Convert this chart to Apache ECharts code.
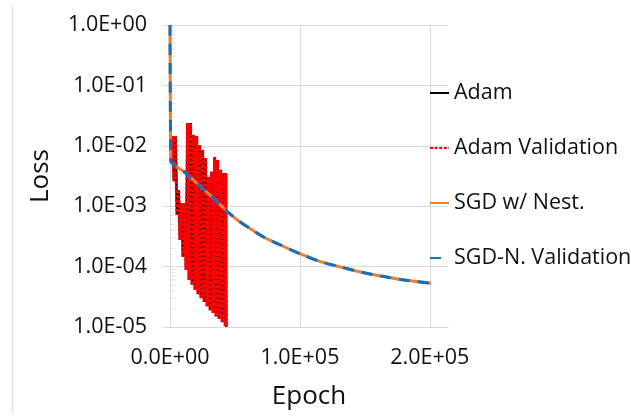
<!DOCTYPE html>
<html>
<head>
<meta charset="utf-8">
<script src="https://cdn.jsdelivr.net/npm/echarts@6/dist/echarts.min.js"></script>
<style>
html,body{margin:0;padding:0;background:#fff;}
#chart{width:631px;height:417px;}
</style>
</head>
<body>
<div id="chart"></div>
<script>
// ---- Data ----
const seriesNames = ['Adam', 'Adam Validation', 'SGD w/ Nest.', 'SGD-N. Validation'];

const adamEpochs = [800, 1900, 3100, 4200, 5400, 6600, 7700, 8900, 10000, 11200,
  12400, 13500, 14700, 15800, 17000, 18100, 19300, 20500, 21600, 22800,
  23900, 25100, 26300, 27400, 28600, 29700, 30900, 32000, 33200, 34400,
  35500, 36700, 37800, 39000, 40200, 41300, 42500, 43000, 43300];
const adamLoss = [5.4e-3, 1.45e-2, 2.6e-3, 1.45e-2, 7.2e-4, 1.85e-3, 2.8e-4, 1.13e-3, 1.44e-4, 1.13e-3,
  8.8e-5, 2.38e-2, 6.0e-5, 2.38e-2, 5.0e-5, 1.51e-2, 4.1e-5, 1.45e-2, 3.5e-5, 1.03e-2,
  3.0e-5, 8.5e-3, 2.6e-5, 6.3e-3, 2.2e-5, 3.0e-3, 1.9e-5, 3.7e-3, 1.7e-5, 6.5e-3,
  1.5e-5, 5.8e-3, 1.36e-5, 4.0e-3, 1.2e-5, 3.55e-3, 1.04e-5, 3.5e-3, 1.0e-5];
const adamValLoss = [5.4e-3, 1.45e-2, 2.6e-3, 1.45e-2, 7.2e-4, 1.85e-3, 2.8e-4, 1.13e-3, 1.44e-4, 1.13e-3,
  8.8e-5, 2.38e-2, 6.0e-5, 2.38e-2, 5.0e-5, 1.51e-2, 4.1e-5, 1.45e-2, 3.5e-5, 1.03e-2,
  3.0e-5, 8.5e-3, 2.6e-5, 6.3e-3, 2.2e-5, 3.0e-3, 1.9e-5, 3.7e-3, 1.7e-5, 6.5e-3,
  1.5e-5, 5.8e-3, 1.36e-5, 4.0e-3, 1.2e-5, 3.55e-3, 1.04e-5, 3.5e-3, 1.0e-5];

const sgdEpochs = [0, 500, 800, 11600, 21600, 32400, 42500, 52500, 63300, 73400,
  84900, 100400, 115800, 131300, 146700, 162200, 177600, 200800];
const sgdLoss = [1.0, 6.0e-3, 5.4e-3, 3.61e-3, 2.29e-3, 1.42e-3, 8.81e-4, 5.79e-4, 4.04e-4, 2.98e-4,
  2.28e-4, 1.62e-4, 1.21e-4, 9.85e-5, 8.14e-5, 6.99e-5, 6.11e-5, 5.29e-5];
const sgdValLoss = [1.0, 6.0e-3, 5.4e-3, 3.61e-3, 2.29e-3, 1.42e-3, 8.81e-4, 5.79e-4, 4.04e-4, 2.98e-4,
  2.28e-4, 1.62e-4, 1.21e-4, 9.85e-5, 8.14e-5, 6.99e-5, 6.11e-5, 5.29e-5];

const xTickValues = [0, 100000, 200000];
const yTickExponents = [0, -1, -2, -3, -4, -5];

// ---- Helpers ----
function pair(xs, ys) { return xs.map((x, i) => [x, ys[i]]); }
function sci(v) {
  if (v === 0) return '0.0E+00';
  const e = Math.floor(Math.log10(v) + 1e-9);
  const m = v / Math.pow(10, e);
  return m.toFixed(1) + 'E' + (e < 0 ? '-' : '+') + String(Math.abs(e)).padStart(2, '0');
}
// minor tick decoration for the log axis (2..9 in each decade)
const minorTicks = [];
for (let d = -5; d < 0; d++) for (let k = 2; k <= 9; k++) minorTicks.push([0, k * Math.pow(10, d)]);

const FONT = '"Open Sans", "Noto Sans", sans-serif';
const GRID = '#D9D9D9';
const FS = 21.5;

const chart = echarts.init(document.getElementById('chart'), null, { renderer: 'canvas' });
chart.setOption({
  animation: false,
  backgroundColor: '#fff',
  textStyle: { fontFamily: FONT },
  grid: { left: 170, right: 183, top: 25, bottom: 90, containLabel: false },
  graphic: [{
    type: 'line', silent: true,
    shape: { x1: 12.5, y1: 6, x2: 12.5, y2: 412 },
    style: { stroke: GRID, lineWidth: 1 }
  }],
  legend: {
    orient: 'vertical',
    left: 424, top: 76,
    itemGap: 31,
    itemWidth: 19, itemHeight: 14,
    itemStyle: { opacity: 0 },
    textStyle: { fontFamily: FONT, fontSize: FS, color: '#111', lineHeight: 24 },
    data: seriesNames
  },
  xAxis: {
    type: 'value',
    min: 0, max: 214000, interval: 100000,
    axisLine: { show: true, lineStyle: { color: GRID, width: 1 } },
    axisTick: { show: false },
    splitLine: { show: true, showMaxLine: false, lineStyle: { color: GRID, width: 1 } },
    axisLabel: {
      fontFamily: FONT, fontSize: FS, color: '#111', margin: 20,
      showMaxLabel: false,
      formatter: v => (xTickValues.indexOf(v) >= 0 ? sci(v) : '')
    },
    name: 'Epoch', nameLocation: 'middle', nameGap: 57,
    nameTextStyle: { fontFamily: FONT, fontSize: 26, color: '#111' }
  },
  yAxis: {
    type: 'log', logBase: 10,
    min: 1e-5, max: 1, splitNumber: 5,
    axisLine: { show: true, lineStyle: { color: GRID, width: 1 } },
    axisTick: { show: true, length: 7, lineStyle: { color: GRID } },
    splitLine: { show: true, lineStyle: { color: GRID, width: 1 } },
    axisLabel: {
      fontFamily: FONT, fontSize: FS, color: '#111', margin: 23,
      formatter: v => {
        const e = Math.round(Math.log10(v));
        return yTickExponents.indexOf(e) >= 0 ? sci(Math.pow(10, e)) : '';
      }
    },
    name: 'Loss', nameLocation: 'middle', nameGap: 116, nameRotate: 90,
    nameTextStyle: { fontFamily: FONT, fontSize: 26, color: '#111' }
  },
  series: [
    {
      name: 'Adam', type: 'line', data: pair(adamEpochs, adamLoss),
      showSymbol: false, symbol: 'none', z: 2,
      color: '#000', lineStyle: { color: '#000', width: 2.5 }
    },
    {
      name: 'Adam Validation', type: 'line', data: pair(adamEpochs, adamValLoss),
      showSymbol: false, symbol: 'none', z: 3,
      color: '#FF0000', lineStyle: { color: '#FF0000', width: 3.2, type: [3, 1.6] }
    },
    {
      name: 'SGD w/ Nest.', type: 'line', data: pair(sgdEpochs, sgdLoss),
      showSymbol: false, symbol: 'none', z: 4, smooth: 0.3,
      color: '#ED7D31', lineStyle: { color: '#ED7D31', width: 3 }
    },
    {
      name: 'SGD-N. Validation', type: 'line', data: pair(sgdEpochs, sgdValLoss),
      showSymbol: false, symbol: 'none', z: 5, smooth: 0.3,
      color: '#1570BE', lineStyle: { color: '#1570BE', width: 3, type: [11, 8] }
    },
    {
      name: 'minorTicks', type: 'scatter', data: minorTicks, silent: true, z: 1,
      symbol: 'rect', symbolSize: [5, 1], symbolOffset: [3, 0],
      itemStyle: { color: GRID }, clip: false
    }
  ]
});
</script>
</body>
</html>
